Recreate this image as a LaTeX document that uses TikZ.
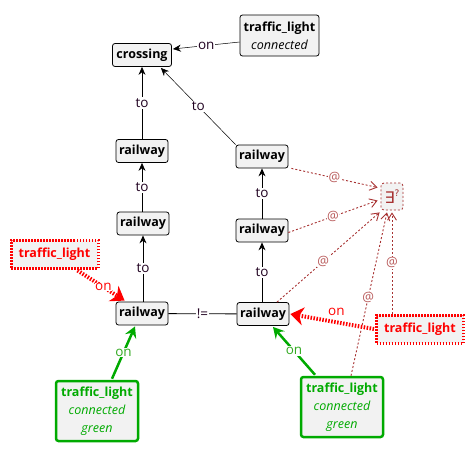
\documentclass[tikz,border=0pt]{standalone}
\usepackage{fontspec}
\setmainfont{Open Sans}
\newfontfamily\dejavu{DejaVu Sans}
\usetikzlibrary{arrows.meta,calc}
\definecolor{boxfill}{HTML}{F2F2F2}
\definecolor{atred}{HTML}{A83232}
\definecolor{tlred}{HTML}{FF0000}
\definecolor{tlgreen}{HTML}{00AA00}
\definecolor{lblgreen}{HTML}{33AA22}
\definecolor{lbldark}{HTML}{200020}
\begin{document}
\begin{tikzpicture}[x=1pt,y=-1pt,
 box/.style={draw=black, fill=boxfill, rounded corners=2.5pt, line width=0.8pt, font=\bfseries\fontsize{12.5}{18}\selectfont, inner sep=0pt, align=center},
 rail/.style={box, minimum width=52pt, minimum height=23pt},
 redbox/.style={box, draw=tlred, line width=3pt, dash pattern=on 1.5pt off 1.5pt, text=tlred, minimum width=87pt, minimum height=28pt, rounded corners=0pt},
 greenbox/.style={box, draw=tlgreen, line width=2.5pt, text=tlgreen, minimum width=82pt, minimum height=60pt},
 exbox/.style={draw=atred, fill=boxfill, rounded corners=3pt, line width=0.8pt, dash pattern=on 2pt off 2pt, minimum width=22pt, minimum height=27pt, inner sep=0pt, text=atred},
 lbl/.style={fill=white, inner sep=1pt, font=\fontsize{13.5}{15}\selectfont, text=lbldark},
 atlbl/.style={fill=white, inner sep=0.5pt, font=\fontsize{13}{15}\selectfont, text=atred!80},
 toedge/.style={draw=black, line width=0.8pt, -{Stealth[length=8pt,width=7pt]}},
 thinedge/.style={draw=black, line width=0.5pt, -{Stealth[length=8pt,width=7pt]}},
 atedge/.style={draw=atred, line width=0.9pt, dash pattern=on 2pt off 2pt, -{Straight Barb[length=7pt,width=9pt]}},
 rededge/.style={draw=tlred, line width=4pt, dash pattern=on 1.5pt off 1.5pt, -{Stealth[length=13pt,width=18pt,inset=4pt]}},
 greenedge/.style={draw=tlgreen, line width=2.5pt, -{Stealth[length=11pt,width=12pt,inset=4pt]}},
]
\useasboundingbox (0,0) rectangle (472,451);
\fill[white] (0,0) rectangle (472,451);

% nodes
\node[box, minimum width=59pt, minimum height=23pt] (crossing) at (142,55) {crossing};
\node[box, minimum width=79pt, minimum height=41pt] (toptl) at (279.5,35.5) {traffic\_light\\\normalfont\itshape connected};
\node[rail] (rL1) at (142,151) {railway};
\node[rail] (rL2) at (143,223.5) {railway};
\node[rail] (rL3) at (142,313.5) {railway};
\node[rail] (rR1) at (262,156.5) {railway};
\node[rail] (rR2) at (262,230.5) {railway};
\node[rail] (rR3) at (263,314) {railway};
\node[exbox] (ex) at (392,196.5) {\dejavu\fontsize{16}{16}\selectfont ∃\raisebox{7pt}{\fontsize{9}{9}\selectfont ?}};
\node[redbox] (redL) at (54.5,254) {traffic\_light};
\node[redbox] (redR) at (420,329) {traffic\_light};
\node[greenbox] (grnL) at (97,411) {traffic\_light\\\normalfont\itshape connected\\\normalfont\itshape green};
\node[greenbox] (grnR) at (342,407) {traffic\_light\\\normalfont\itshape connected\\\normalfont\itshape green};

% black edges
\draw[thinedge] ($(toptl.west)+(0,6.5)$) -- node[lbl]{on} ($(crossing.east)+(1,-6)$);
\draw[toedge] (rL1) -- node[lbl]{to} (crossing);
\draw[thinedge] (rR1.north west) -- node[lbl]{to} ($(crossing.south east)+(-11,1)$);
\draw[toedge] (rL2.north -| rL1) -- node[lbl]{to} (rL1);
\draw[toedge] (rL3.north -| rL2) -- node[lbl]{to} (rL2);
\draw[toedge] (rR2) -- node[lbl]{to} (rR1);
\draw[toedge] (rR3.north -| rR2) -- node[lbl]{to} (rR2);
\draw[line width=0.8pt] (rL3) -- node[lbl]{!=} (rR3);

% @ edges
\draw[atedge] ($(rR1.south east)+(3,0)$) -- node[atlbl]{@} ($(ex.west)+(-3,-9)$);
\draw[atedge] ($(rR2.east)+(0,2)$) -- node[atlbl]{@} ($(ex.west)+(-3,4)$);
\draw[atedge] ($(rR3.north)+(14,0)$) -- node[atlbl,pos=0.45]{@} ($(ex.south west)+(-1,2)$);
\draw[atedge] ($(grnR.north)+(9,0)$) -- node[atlbl,pos=0.48]{@} ($(ex.south)+(-5,2)$);
\draw[atedge] ($(redR.north)+(-28,0)$) -- node[atlbl,pos=0.5]{@} ($(ex.south)+(0,2)$);

% red edges
\draw[rededge] ($(redL.south)+(23,1)$) -- node[lbl,text=tlred,inner sep=0pt,pos=0.55]{on} ($(rL3.north west)+(9,-1)$);
\draw[rededge] ($(redR.west)+(-1,0)$) -- node[above=4pt,lbl,text=tlred,fill=none,pos=0.45]{on} ($(rR3.east)+(1,0)$);

% green edges
\draw[greenedge] ($(grnL.north)+(15,-1)$) -- node[lbl,text=lblgreen,pos=0.5]{on} ($(rL3.south)+(-7,1)$);
\draw[greenedge] ($(grnR.north)+(-27,-1)$) -- node[lbl,text=lblgreen,pos=0.5]{on} ($(rR3.south)+(10,1)$);
\end{tikzpicture}
\end{document}
